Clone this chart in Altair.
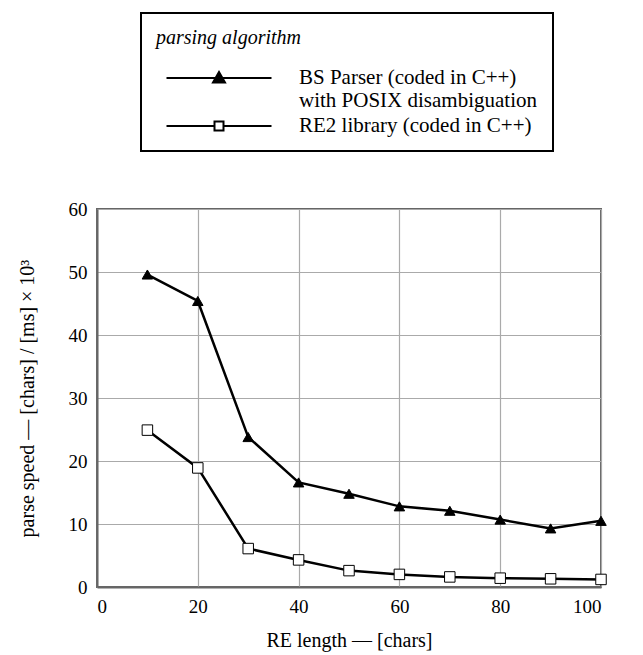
import altair as alt
import pandas as pd

x_len = [10, 20, 30, 40, 50, 60, 70, 80, 90, 100]
bs_speed = [49.6, 45.4, 23.8, 16.6, 14.8, 12.8, 12.1, 10.7, 9.3, 10.5]
re2_speed = [24.9, 18.9, 6.1, 4.3, 2.6, 2.0, 1.6, 1.4, 1.3, 1.2]
series_names = ["BS Parser (coded in C++) with POSIX disambiguation", "RE2 library (coded in C++)"]
x_ticks = [0, 20, 40, 60, 80, 100]
y_ticks = [0, 10, 20, 30, 40, 50, 60]

rows = []
for name, vals in zip(series_names, [bs_speed, re2_speed]):
    for xv, yv in zip(x_len, vals):
        rows.append({"len": xv, "speed": yv, "series": name})
df = pd.DataFrame(rows)

FONT = "Liberation Serif, Times New Roman, serif"
BS = series_names[0]
# legend glyphs: a line with the marker in its middle
path_bs = "M-5.25,0H5.25M-0.6,0.45L0,-0.6L0.6,0.45Z"
path_re = "M-5.25,0H-0.45M0.45,0H5.25M-0.45,-0.45H0.45V0.45H-0.45Z"

x_enc = alt.X("len:Q", scale=alt.Scale(domain=[0, 100], nice=False),
              axis=alt.Axis(values=x_ticks, title="RE length — [chars]", tickSize=0,
                            labelPadding=10, titlePadding=14, labelFont=FONT, titleFont=FONT))
y_enc = alt.Y("speed:Q", scale=alt.Scale(domain=[0, 60], nice=False),
              axis=alt.Axis(values=y_ticks, title="parse speed — [chars] / [ms] × 10³", tickSize=0,
                            labelPadding=10, titlePadding=31, labelFont=FONT, titleFont=FONT))

base = alt.Chart(df)
lines = base.mark_line(color="black", strokeWidth=2.5).encode(x=x_enc, y=y_enc, detail="series:N")

points = base.mark_point(filled=True, size=110, strokeWidth=1, opacity=1).encode(
    x=x_enc, y=y_enc,
    shape=alt.Shape("series:N", scale=alt.Scale(domain=series_names, range=["triangle-up", "square"]), legend=None),
    fill=alt.Fill("series:N", scale=alt.Scale(domain=series_names, range=["black", "white"]), legend=None),
    stroke=alt.value("black"),
)

legend = alt.Legend(
    title="parsing algorithm", orient="none", legendX=44, legendY=-196,
    direction="vertical", padding=15, strokeColor="black",
    titleFont=FONT, titleFontSize=20, titleFontStyle="italic", titleFontWeight="normal",
    titlePadding=19, labelFont=FONT, labelFontSize=21, labelLimit=500,
    labelOffset=69, symbolSize=400, symbolOffset=52, rowPadding=4,
    labelExpr=f"datum.label == '{BS}' ? ['BS Parser (coded in C++)', 'with POSIX disambiguation'] : datum.label",
    symbolStrokeWidth=2, symbolStrokeColor="black", symbolOpacity=1,
)

legend_layer = base.transform_filter("false").mark_point(filled=True, opacity=1, strokeWidth=2).encode(
    x=x_enc, y=y_enc,
    shape=alt.Shape("series:N", scale=alt.Scale(domain=series_names, range=[path_bs, path_re]), legend=legend),
    fill=alt.Fill("series:N", scale=alt.Scale(domain=series_names, range=["black", "white"]), legend=legend),
    stroke=alt.Stroke("series:N", scale=alt.Scale(domain=series_names, range=["black", "black"]), legend=legend),
)

chart = (lines + points + legend_layer).resolve_scale(
    shape="independent", fill="independent", stroke="independent"
).resolve_legend(
    shape="independent", fill="independent", stroke="independent"
).properties(width=504, height=378, padding={"left": 9, "top": 4, "right": 10, "bottom": 5}).configure(
    font=FONT
).configure_view(
    stroke="#666", strokeWidth=2
).configure_axis(
    labelFont=FONT, labelFontSize=19, titleFont=FONT, titleFontSize=20, titleFontWeight="normal",
    labelColor="black", titleColor="black", gridColor="#aaa", gridWidth=1.2, domainColor="#666", domainWidth=2,
    grid=True,
).configure_legend(strokeWidth=2, labelFont=FONT, titleFont=FONT)

chart.save("out.html", embed_options={"renderer": "svg", "actions": False})
